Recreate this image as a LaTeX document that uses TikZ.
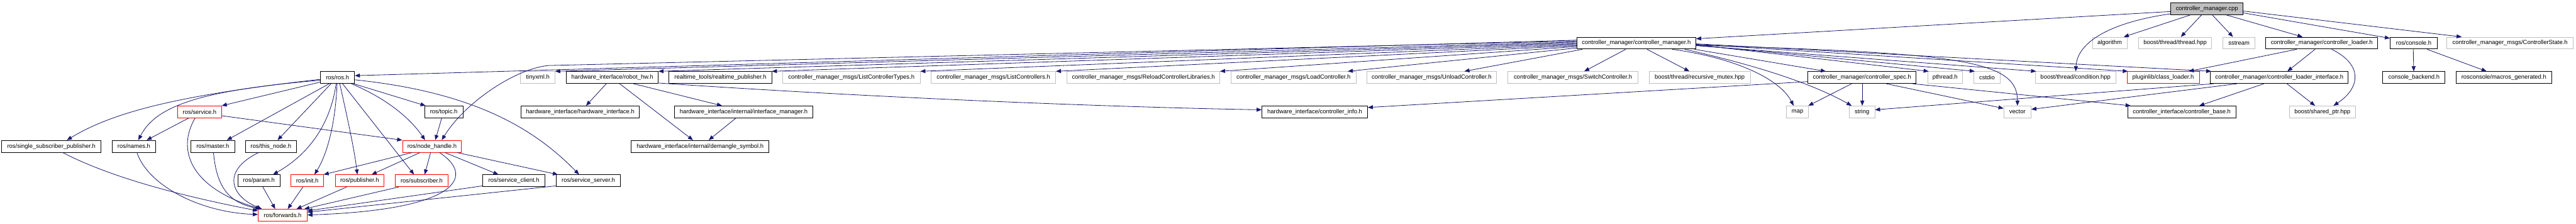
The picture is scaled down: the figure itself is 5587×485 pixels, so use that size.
\documentclass[tikz,border=0pt]{standalone}
\usepackage{fontspec}
\setmainfont{Liberation Sans}
\usetikzlibrary{arrows.meta}
\definecolor{edgec}{RGB}{25,25,112}
\definecolor{grayb}{RGB}{191,191,191}
\newcommand\nd[6]{\node[#1, minimum width={(#4-#3)*1pt}] (#2) at ({(#3+#4)/2},{18.85+74.6*#5}) {#6};}
\begin{document}
\begin{tikzpicture}[x=1pt,y=-1pt,
  box/.style={draw, fill=white, line width=1.2pt, minimum height=25.7pt, inner sep=0pt, font=\fontsize{12.9}{15}\selectfont},
  blk/.style={box, draw=black},
  gry/.style={box, draw=grayb},
  redb/.style={box, draw=red},
  root/.style={box, draw=black, fill=grayb},
  e/.style={draw=edgec, line width=1.1pt, -{Triangle[length=11pt,width=8.5pt]}}]
\fill[white] (0,0) rectangle (5587,485);
\useasboundingbox (0,0) rectangle (5587,485);
% row 0
\nd{root}{cpp}{4708}{4865}{0}{controller\_manager.cpp}
% row 1
\nd{blk}{cmh}{3420}{3678}{1}{controller\_manager/controller\_manager.h}
\nd{gry}{algo}{4538}{4613}{1}{algorithm}
\nd{gry}{thr}{4638}{4797}{1}{boost/thread/thread.hpp}
\nd{gry}{sstr}{4821}{4891}{1}{sstream}
\nd{blk}{cld}{4914}{5157}{1}{controller\_manager/controller\_loader.h}
\nd{blk}{rcon}{5184}{5286}{1}{ros/console.h}
\nd{gry}{cst}{5307}{5581}{1}{controller\_manager\_msgs/ControllerState.h}
% row 2
\nd{blk}{ros}{695}{769}{2}{ros/ros.h}
\nd{gry}{txml}{1129}{1204}{2}{tinyxml.h}
\nd{blk}{rhw}{1228}{1428}{2}{hardware\_interface/robot\_hw.h}
\nd{blk}{rtp}{1451}{1674}{2}{realtime\_tools/realtime\_publisher.h}
\nd{gry}{lct}{1697}{1996}{2}{controller\_manager\_msgs/ListControllerTypes.h}
\nd{gry}{lc}{2019}{2290}{2}{controller\_manager\_msgs/ListControllers.h}
\nd{gry}{rcl}{2314}{2646}{2}{controller\_manager\_msgs/ReloadControllerLibraries.h}
\nd{gry}{ldc}{2670}{2941}{2}{controller\_manager\_msgs/LoadController.h}
\nd{gry}{ulc}{2964}{3246}{2}{controller\_manager\_msgs/UnloadController.h}
\nd{gry}{swc}{3270}{3553}{2}{controller\_manager\_msgs/SwitchController.h}
\nd{gry}{rmx}{3577}{3796}{2}{boost/thread/recursive\_mutex.hpp}
\nd{blk}{csp}{3921}{4156}{2}{controller\_manager/controller\_spec.h}
\nd{gry}{pth}{4181}{4256}{2}{pthread.h}
\nd{gry}{cstd}{4281}{4338}{2}{cstdio}
\nd{gry}{cond}{4414}{4589}{2}{boost/thread/condition.hpp}
\nd{redb}{plg}{4613}{4770}{2}{pluginlib/class\_loader.h}
\nd{blk}{cli}{4794}{5093}{2}{controller\_manager/controller\_loader\_interface.h}
\nd{blk}{cbk}{5168}{5303}{2}{console\_backend.h}
\nd{blk}{mac}{5327}{5534}{2}{rosconsole/macros\_generated.h}
% row 3
\nd{redb}{srv}{385}{481}{3}{ros/service.h}
\nd{blk}{top}{921}{1004}{3}{ros/topic.h}
\nd{blk}{hwi}{1130}{1387}{3}{hardware\_interface/hardware\_interface.h}
\nd{blk}{ifm}{1463}{1763}{3}{hardware\_interface/internal/interface\_manager.h}
\nd{blk}{cinf}{2737}{2966}{3}{hardware\_interface/controller\_info.h}
\nd{gry}{map}{3875}{3922}{3}{map}
\nd{gry}{str}{4011}{4066}{3}{string}
\nd{gry}{vec}{4346}{4405}{3}{vector}
\nd{blk}{cbase}{4615}{4849}{3}{controller\_interface/controller\_base.h}
\nd{gry}{shp}{4965}{5109}{3}{boost/shared\_ptr.hpp}
% row 4
\nd{blk}{ssp}{4}{219}{4}{ros/single\_subscriber\_publisher.h}
\nd{blk}{nam}{243}{338}{4}{ros/names.h}
\nd{blk}{mst}{414}{509}{4}{ros/master.h}
\nd{blk}{thn}{532}{643}{4}{ros/this\_node.h}
\nd{redb}{nh}{873}{1001}{4}{ros/node\_handle.h}
\nd{blk}{dmg}{1369}{1668}{4}{hardware\_interface/internal/demangle\_symbol.h}
% row 5
\nd{blk}{par}{516}{607}{5}{ros/param.h}
\nd{redb}{ini}{631}{702}{5}{ros/init.h}
\nd{redb}{pub}{727}{833}{5}{ros/publisher.h}
\nd{redb}{sub}{857}{972}{5}{ros/subscriber.h}
\nd{blk}{scl}{1047}{1182}{5}{ros/service\_client.h}
\nd{blk}{ssv}{1206}{1346}{5}{ros/service\_server.h}
% row 6
\nd{redb}{fwd}{560}{666}{6}{ros/forwards.h}

% ---- edges from controller_manager.cpp
\draw[e] (cpp.west |- 0,25) -- (cmh.east |- 0,84);
\draw[e] (cpp.west |- 0,30) .. controls (4580,48) and (4505,90) .. (cond.north -| 4502,0);
\draw[e] (cpp.south -| 4751,0) -- (algo.north -| 4606,0);
\draw[e] (cpp.south -| 4775,0) -- (thr.north -| 4730,0);
\draw[e] (cpp.south -| 4798,0) -- (sstr.north -| 4843,0);
\draw[e] (cpp.south -| 4828,0) -- (cld.north -| 4994,0);
\draw[e] (cpp.east |- 0,28) -- (rcon.west |- 0,83);
\draw[e] (cpp.east |- 0,24) -- (cst.north -| 5339,0);
% ---- edges from controller_manager.h
\draw[e] (cmh.west |- 0,87) -- (ros.east |- 0,164);
\draw[e] (cmh.west |- 0,89) -- (1190,142) .. controls (1120,148) and (1010,220) .. (nh.north -| 958,0);
\draw[e] (cmh.west |- 0,91) -- (txml.north -| 1204,0);
\draw[e] (cmh.west |- 0,93) -- (rhw.north -| 1428,0);
\draw[e] (cmh.west |- 0,95) -- (rtp.north -| 1674,0);
\draw[e] (cmh.west |- 0,97) -- (lct.north -| 1996,0);
\draw[e] (cmh.west |- 0,99) -- (lc.north -| 2290,0);
\draw[e] (cmh.west |- 0,101) -- (rcl.north -| 2646,0);
\draw[e] (cmh.west |- 0,104) -- (ldc.north -| 2923,0);
\draw[e] (cmh.south -| 3432,0) -- (ulc.north -| 3176,0);
\draw[e] (cmh.south -| 3526,0) -- (swc.north -| 3436,0);
\draw[e] (cmh.south -| 3572,0) -- (rmx.north -| 3664,0);
\draw[e] (cmh.south -| 3627,0) .. controls (3760,125) and (3860,170) .. (map.north -| 3890,0);
\draw[e] (cmh.south -| 3654,0) .. controls (3780,135) and (3920,175) .. (str.north -| 4016,0);
\draw[e] (cmh.south -| 3675,0) -- (csp.north -| 3960,0);
\draw[e] (cmh.east |- 0,97) -- (pth.north -| 4183,0);
\draw[e] (cmh.east |- 0,98) -- (cstd.north -| 4283,0);
\draw[e] (cmh.east |- 0,99) -- (cond.north -| 4416,0);
\draw[e] (cmh.east |- 0,96) -- (plg.north -| 4615,0);
\draw[e] (cmh.east |- 0,95) -- (cli.north -| 4796,0);
\draw[e] (cmh.east |- 0,98) .. controls (4250,115) and (4376,130) .. (vec.north);
% ---- edges from ros/ros.h
\draw[e] (ros.west |- 0,172) .. controls (400,205) and (250,240) .. (ssp.north -| 145,0);
\draw[e] (ros.west |- 0,174) .. controls (450,195) and (340,225) .. (nam.north -| 300,0);
\draw[e] (ros.west |- 0,178) -- (srv.north -| 481,0);
\draw[e] (ros.south -| 714,0) -- (mst.north -| 492,0);
\draw[e] (ros.south -| 718,0) -- (thn.north -| 602,0);
\draw[e] (ros.south -| 729,0) .. controls (715,280) and (660,340) .. (par.north -| 592,0);
\draw[e] (ros.south -| 731,0) .. controls (728,260) and (712,330) .. (ini.north -| 682,0);
\draw[e] (ros.south -| 737,0) .. controls (752,250) and (768,320) .. (pub.north -| 775,0);
\draw[e] (ros.south -| 743,0) -- (sub.north -| 898,0);
\draw[e] (ros.south -| 762,0) .. controls (830,210) and (885,250) .. (nh.north -| 922,0);
\draw[e] (ros.south -| 767,0) -- (top.north -| 923,0);
\draw[e] (ros.east |- 0,173) .. controls (1030,200) and (1160,280) .. (ssv.north -| 1256,0);
% ---- ros/service.h
\draw[e] (srv.south -| 409,0) -- (nam.north -| 318,0);
\draw[e] (srv.south -| 423,0) .. controls (380,330) and (420,410) .. (fwd.north -| 566,0);
\draw[e] (srv.east |- 0,251) -- (nh.north west);
% ---- into ros/forwards.h
\draw[e] (ssp.south -| 136,0) .. controls (250,390) and (420,430) .. (fwd.west |- 0,457);
\draw[e] (nam.south -| 297,0) .. controls (320,400) and (430,460) .. (fwd.west |- 0,465);
\draw[e] (mst.south -| 463,0) .. controls (470,410) and (500,440) .. (fwd.north -| 565,0);
\draw[e] (thn.south -| 561,0) .. controls (480,370) and (500,425) .. (fwd.north -| 568,0);
\draw[e] (par.south -| 570,0) -- (fwd.north -| 597,0);
\draw[e] (ini.south -| 657,0) -- (fwd.north -| 624,0);
\draw[e] (pub.south -| 752,0) -- (fwd.north -| 643,0);
\draw[e] (sub.south -| 865,0) -- (fwd.north -| 660,0);
\draw[e] (scl.west |- 0,403) -- (fwd.east |- 0,457);
\draw[e] (ssv.west |- 0,403) -- (fwd.east |- 0,460);
\draw[e] (nh.south -| 953,0) .. controls (1030,380) and (1000,455) .. (fwd.east |- 0,466);
% ---- ros/node_handle.h
\draw[e] (nh.south -| 894,0) -- (ini.north -| 702,0);
\draw[e] (nh.south -| 911,0) -- (pub.north -| 806,0);
\draw[e] (nh.south -| 934,0) -- (sub.north -| 921,0);
\draw[e] (nh.south -| 965,0) -- (scl.north -| 1081,0);
\draw[e] (nh.south -| 991,0) -- (ssv.north -| 1210,0);
\draw[e] (top.south -| 958,0) -- (nh.north -| 944,0);
% ---- hardware_interface
\draw[e] (rhw.south -| 1315,0) -- (hwi.north -| 1271,0);
\draw[e] (rhw.south -| 1344,0) -- (dmg.north -| 1503,0);
\draw[e] (rhw.south -| 1374,0) -- (ifm.north -| 1566,0);
\draw[e] (rhw.east |- 0,180) .. controls (1900,212) and (2400,232) .. (cinf.west |- 0,238);
\draw[e] (ifm.south -| 1596,0) -- (dmg.north -| 1537,0);
% ---- controller_spec.h
\draw[e] (csp.west |- 0,177) -- (cinf.east |- 0,233);
\draw[e] (csp.south -| 4016,0) -- (map.north -| 3922,0);
\draw[e] (csp.south -| 4039,0) -- (str.north -| 4039,0);
\draw[e] (csp.south -| 4091,0) -- (vec.west |- 0,235);
\draw[e] (csp.south -| 4148,0) -- (cbase.north -| 4621,0);
% ---- controller_loader_interface.h
\draw[e] (cli.south -| 4801,0) -- (str.east |- 0,238);
\draw[e] (cli.south -| 4852,0) -- (vec.east |- 0,237);
\draw[e] (cli.south -| 4910,0) -- (cbase.north -| 4770,0);
\draw[e] (cli.south -| 4960,0) -- (shp.north -| 5021,0);
% ---- controller_loader.h
\draw[e] (cld.south -| 4981,0) -- (plg.north -| 4747,0);
\draw[e] (cld.south -| 5021,0) -- (cli.north -| 4961,0);
\draw[e] (cld.south -| 5057,0) .. controls (5125,140) and (5120,190) .. (shp.north -| 5061,0);
% ---- ros/console.h
\draw[e] (rcon.south -| 5234,0) -- (cbk.north -| 5235,0);
\draw[e] (rcon.south -| 5264,0) -- (mac.north -| 5393,0);
\end{tikzpicture}
\end{document}
